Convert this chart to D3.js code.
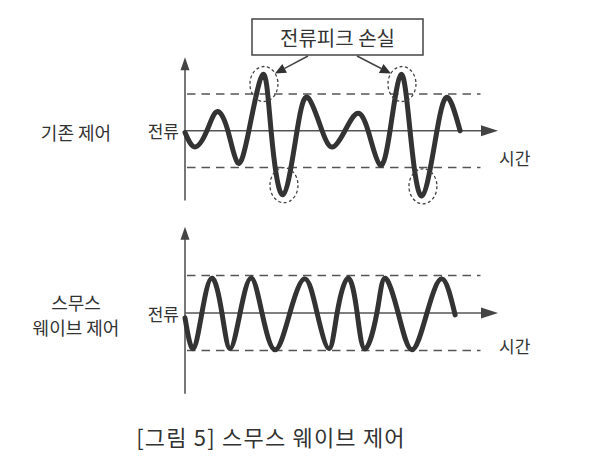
<!DOCTYPE html>
<html><head><meta charset="utf-8">
<script src="https://cdn.jsdelivr.net/npm/d3@7"></script>
<style>body{margin:0;background:#fff}</style>
</head><body><svg id="c" width="600" height="464"></svg>
<script>
// ---- data ----
const timeTop = [0,0.32,0.70,1.02,1.37,1.69,2.04,2.49,2.75,3.13,3.58,3.93,4.38,4.73,5.11,5.50,5.85,6.23,6.55,6.90,7.19,7.57,8.05,8.40,8.79];
const currentTop = [-0.05,-0.44,0,0.52,0,-0.88,0,1.53,0,-1.74,0,0.90,0,-0.44,0,0.47,0,-0.93,0,1.53,0,-1.77,0,0.90,0];
const timeBottom = [0,0.26,0.54,0.86,1.18,1.44,1.76,2.11,2.46,2.88,3.35,3.83,4.22,4.60,4.86,5.21,5.50,5.75,6.13,6.39,6.81,7.25,7.73,8.21,8.63];
const currentBottom = [-0.13,-0.95,0,0.93,0,-0.95,0,0.93,0,-0.98,0,0.91,0,-0.95,0,0.93,0,-0.96,0,0.93,0,-0.98,0,0.91,-0.05];
const limitLevels = [1, -1];
const peakLossIndex = [7, 9, 19, 21];
const rowLabelTop = ["기존 제어"];
const rowLabelBottom = ["스무스", "웨이브 제어"];
const yAxisLabel = "전류";
const xAxisLabel = "시간";
const calloutText = "전류피크 손실";
const captionText = "[그림 5] 스무스 웨이브 제어";

// ---- drawing ----
const svg = d3.select("#c");
const FONT = "'Noto Sans CJK KR','Noto Sans',sans-serif";
const x = d3.scaleLinear().domain([0, 10]).range([185, 498]);

const panels = [
  {t: timeTop, v: currentTop, y: d3.scaleLinear().domain([-1, 1]).range([167.5, 94]),
   vTop: 2.0, vBot: -1.9, label: rowLabelTop, labelY: [132], yLab: 130, xLab: 157},
  {t: timeBottom, v: currentBottom, y: d3.scaleLinear().domain([-1, 1]).range([350.5, 275.5]),
   vTop: 2.3, vBot: -2.15, label: rowLabelBottom, labelY: [302, 327], yLab: 313, xLab: 345}
];

const line = d3.line().curve(d3.curveNatural);

panels.forEach(p => {
  const g = svg.append("g");
  const y0 = p.y(0);
  // dashed limit lines
  limitLevels.forEach(l => {
    g.append("line").attr("x1", x(0) + 2).attr("x2", x(9.44))
      .attr("y1", p.y(l)).attr("y2", p.y(l))
      .attr("stroke", "#555").attr("stroke-width", 1.7).attr("stroke-dasharray", "8.5,6");
  });
  // time axis
  g.append("line").attr("x1", x(0)).attr("x2", x(10) - 12).attr("y1", y0).attr("y2", y0)
    .attr("stroke", "#555").attr("stroke-width", 1.6);
  g.append("path").attr("d", `M${x(10)},${y0} L${x(10) - 17},${y0 - 5.5} L${x(10) - 17},${y0 + 5.5} Z`)
    .attr("fill", "#444");
  // current axis
  const yt = p.y(p.vTop), yb = p.y(p.vBot);
  g.append("line").attr("x1", x(0)).attr("x2", x(0)).attr("y1", yt + 8).attr("y2", yb)
    .attr("stroke", "#555").attr("stroke-width", 1.6);
  g.append("path").attr("d", `M${x(0)},${yt} L${x(0) - 4.5},${yt + 13} L${x(0) + 4.5},${yt + 13} Z`)
    .attr("fill", "#444");
  // waveform
  g.append("path").attr("d", line(p.t.map((t, i) => [x(t), p.y(p.v[i])])))
    .attr("fill", "none").attr("stroke", "#333").attr("stroke-width", 5)
    .attr("stroke-linecap", "round").attr("stroke-linejoin", "round");
  // labels
  p.label.forEach((s, i) => {
    g.append("text").attr("x", 76).attr("y", p.labelY[i]).attr("text-anchor", "middle")
      .attr("dominant-baseline", "central").attr("font-family", FONT).attr("font-size", 18)
      .attr("fill", "#333").text(s);
  });
  g.append("text").attr("x", 179).attr("y", p.yLab).attr("text-anchor", "end")
    .attr("dominant-baseline", "central").attr("font-family", FONT).attr("font-size", 17)
    .attr("fill", "#333").text(yAxisLabel);
  g.append("text").attr("x", 499).attr("y", p.xLab).attr("text-anchor", "start")
    .attr("dominant-baseline", "central").attr("font-family", FONT).attr("font-size", 17)
    .attr("fill", "#333").text(xAxisLabel);
});

// peak-loss annotations on the top panel
const P = panels[0];
peakLossIndex.forEach(i => {
  const cx = x(P.t[i]) + 1;
  const sign = P.v[i] > 0 ? 1 : -1;
  const cy = P.y(P.v[i]) + sign * 9.5;
  svg.append("ellipse").attr("cx", cx).attr("cy", cy).attr("rx", 14).attr("ry", 17.5)
    .attr("fill", "none").attr("stroke", "#444").attr("stroke-width", 1.3)
    .attr("stroke-dasharray", "3,2.5");
});

// callout box
svg.append("rect").attr("x", 252).attr("y", 19).attr("width", 171).attr("height", 36)
  .attr("fill", "#fff").attr("stroke", "#444").attr("stroke-width", 1.5);
svg.append("text").attr("x", 337.5).attr("y", 37).attr("text-anchor", "middle")
  .attr("dominant-baseline", "central").attr("font-family", FONT).attr("font-size", 20)
  .attr("fill", "#333").text(calloutText);

// callout arrows to the two top peak ellipses
[[308, 56, peakLossIndex[0], -1], [357, 56, peakLossIndex[2], 1]].forEach(([sx, sy, i, dir]) => {
  const tx = x(P.t[i]) + 1 + dir * (-11);
  const ty = P.y(P.v[i]) - 1;
  const ang = Math.atan2(ty - sy, tx - sx);
  const L = 11, W = 5;
  const bx = tx - L * Math.cos(ang), by = ty - L * Math.sin(ang);
  svg.append("line").attr("x1", sx).attr("y1", sy).attr("x2", bx).attr("y2", by)
    .attr("stroke", "#444").attr("stroke-width", 1.5);
  svg.append("path").attr("d",
    `M${tx},${ty} L${bx + W * Math.sin(ang)},${by - W * Math.cos(ang)} L${bx - W * Math.sin(ang)},${by + W * Math.cos(ang)} Z`)
    .attr("fill", "#333");
});

// caption
svg.append("text").attr("x", 271).attr("y", 436).attr("text-anchor", "middle")
  .attr("dominant-baseline", "central").attr("font-family", FONT).attr("font-size", 22)
  .attr("letter-spacing", 1.2).attr("fill", "#333").text(captionText);
</script>
</body></html>
